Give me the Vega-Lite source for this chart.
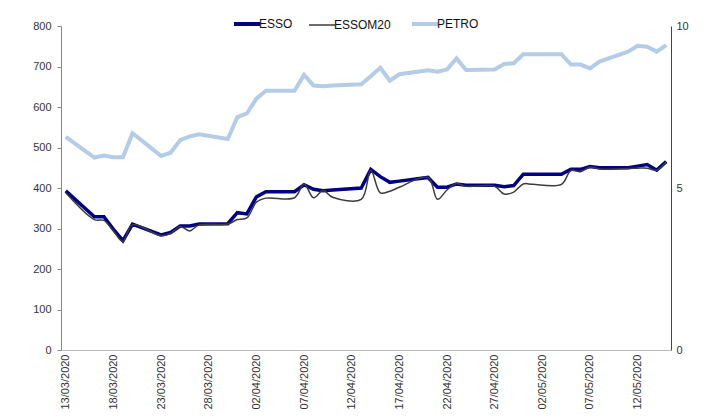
{
  "$schema": "https://vega.github.io/schema/vega-lite/v6.json",
  "width": 610,
  "height": 324,
  "autosize": {"type": "none"},
  "padding": {"left": 61, "top": 26, "right": 36, "bottom": 67},
  "background": "white",
  "config": {
    "view": {"stroke": null},
    "axis": {"labelFont": "Liberation Sans", "labelFontSize": 11, "labelColor": "#333333", "grid": false, "titleFontSize": 0},
    "legend": {"labelFont": "Liberation Sans", "labelFontSize": 12, "labelColor": "#111111"}
  },
  "data": {
    "values": [
      {"date": "2020-03-13", "ESSO": 393, "ESSOM20": 388, "PETRO": 6.58},
      {"date": "2020-03-16", "ESSO": 329, "ESSOM20": 322, "PETRO": 5.94},
      {"date": "2020-03-17", "ESSO": 329, "ESSOM20": 320, "PETRO": 6.00},
      {"date": "2020-03-18", "ESSO": 298, "ESSOM20": 294, "PETRO": 5.95},
      {"date": "2020-03-19", "ESSO": 270, "ESSOM20": 268, "PETRO": 5.95},
      {"date": "2020-03-20", "ESSO": 311, "ESSOM20": 309, "PETRO": 6.69},
      {"date": "2020-03-23", "ESSO": 284, "ESSOM20": 282, "PETRO": 5.99},
      {"date": "2020-03-24", "ESSO": 290, "ESSOM20": 288, "PETRO": 6.09},
      {"date": "2020-03-25", "ESSO": 306, "ESSOM20": 305, "PETRO": 6.48},
      {"date": "2020-03-26", "ESSO": 306, "ESSOM20": 294, "PETRO": 6.59},
      {"date": "2020-03-27", "ESSO": 311, "ESSOM20": 309, "PETRO": 6.66},
      {"date": "2020-03-30", "ESSO": 312, "ESSOM20": 311, "PETRO": 6.51},
      {"date": "2020-03-31", "ESSO": 339, "ESSOM20": 322, "PETRO": 7.19},
      {"date": "2020-04-01", "ESSO": 336, "ESSOM20": 326, "PETRO": 7.30},
      {"date": "2020-04-02", "ESSO": 378, "ESSOM20": 365, "PETRO": 7.76},
      {"date": "2020-04-03", "ESSO": 391, "ESSOM20": 375, "PETRO": 8.00},
      {"date": "2020-04-06", "ESSO": 391, "ESSOM20": 376, "PETRO": 8.00},
      {"date": "2020-04-07", "ESSO": 408, "ESSOM20": 410, "PETRO": 8.49},
      {"date": "2020-04-08", "ESSO": 397, "ESSOM20": 376, "PETRO": 8.16},
      {"date": "2020-04-09", "ESSO": 393, "ESSOM20": 394, "PETRO": 8.14},
      {"date": "2020-04-10", "ESSO": 395, "ESSOM20": 377, "PETRO": 8.16},
      {"date": "2020-04-13", "ESSO": 400, "ESSOM20": 372, "PETRO": 8.20},
      {"date": "2020-04-14", "ESSO": 446, "ESSOM20": 444, "PETRO": 8.45},
      {"date": "2020-04-15", "ESSO": 428, "ESSOM20": 388, "PETRO": 8.71},
      {"date": "2020-04-16", "ESSO": 414, "ESSOM20": 392, "PETRO": 8.31},
      {"date": "2020-04-17", "ESSO": 417, "ESSOM20": 402, "PETRO": 8.51},
      {"date": "2020-04-20", "ESSO": 426, "ESSOM20": 426, "PETRO": 8.63},
      {"date": "2020-04-21", "ESSO": 402, "ESSOM20": 372, "PETRO": 8.59},
      {"date": "2020-04-22", "ESSO": 402, "ESSOM20": 395, "PETRO": 8.66},
      {"date": "2020-04-23", "ESSO": 410, "ESSOM20": 411, "PETRO": 9.00},
      {"date": "2020-04-24", "ESSO": 407, "ESSOM20": 404, "PETRO": 8.64},
      {"date": "2020-04-27", "ESSO": 407, "ESSOM20": 404, "PETRO": 8.66},
      {"date": "2020-04-28", "ESSO": 403, "ESSOM20": 385, "PETRO": 8.83},
      {"date": "2020-04-29", "ESSO": 406, "ESSOM20": 390, "PETRO": 8.85},
      {"date": "2020-04-30", "ESSO": 434, "ESSOM20": 410, "PETRO": 9.13},
      {"date": "2020-05-01", "ESSO": 434, "ESSOM20": 409, "PETRO": 9.13},
      {"date": "2020-05-04", "ESSO": 434, "ESSOM20": 409, "PETRO": 9.13},
      {"date": "2020-05-05", "ESSO": 446, "ESSOM20": 443, "PETRO": 8.81},
      {"date": "2020-05-06", "ESSO": 446, "ESSOM20": 440, "PETRO": 8.81},
      {"date": "2020-05-07", "ESSO": 453, "ESSOM20": 452, "PETRO": 8.69},
      {"date": "2020-05-08", "ESSO": 450, "ESSOM20": 447, "PETRO": 8.90},
      {"date": "2020-05-11", "ESSO": 450, "ESSOM20": 448, "PETRO": 9.21},
      {"date": "2020-05-12", "ESSO": 454, "ESSOM20": 449, "PETRO": 9.39},
      {"date": "2020-05-13", "ESSO": 458, "ESSOM20": 449, "PETRO": 9.36},
      {"date": "2020-05-14", "ESSO": 444, "ESSOM20": 444, "PETRO": 9.21},
      {"date": "2020-05-15", "ESSO": 465, "ESSOM20": 465, "PETRO": 9.41}
    ]
  },
  "transform": [{"fold": ["ESSO", "ESSOM20", "PETRO"], "as": ["series", "value"]}],
  "encoding": {
    "x": {
      "field": "date",
      "type": "temporal",
      "title": null,
      "scale": {"type": "utc", "domain": [1584014400000, 1589544000000]},
      "axis": {
        "values": [1584057600000, 1584489600000, 1584921600000, 1585353600000, 1585785600000, 1586217600000, 1586649600000, 1587081600000, 1587513600000, 1587945600000, 1588377600000, 1588809600000, 1589241600000],
        "format": "%d/%m/%Y",
        "labelAngle": -90,
        "labelPadding": 4,
        "ticks": false,
        "domainColor": "#bbbbbb",
        "labelOverlap": false,
        "labelBound": false
      }
    },
    "color": {
      "field": "series",
      "type": "nominal",
      "scale": {"domain": ["ESSO", "ESSOM20", "PETRO"], "range": ["#000080", "#3c3c3c", "#b4cce6"]},
      "legend": {
        "title": null,
        "orient": "none",
        "legendX": 180,
        "legendY": -8,
        "direction": "horizontal",
        "symbolType": "stroke",
        "symbolSize": 676,
        "columnPadding": 13,
        "labelOffset": 6,
        "labelFontSize": 12,
        "padding": 0,
        "encode": {
          "symbols": {"update": {"strokeWidth": {"signal": "datum.value === 'ESSOM20' ? 1.5 : 4"}}}
        }
      }
    }
  },
  "layer": [
    {
      "encoding": {
        "y": {
          "field": "value",
          "type": "quantitative",
          "title": null,
          "scale": {"domain": [0, 800], "nice": false},
          "axis": {"values": [0, 100, 200, 300, 400, 500, 600, 700, 800], "tickSize": 4, "tickColor": "#888888", "domainColor": "#888888", "labelPadding": 6}
        }
      },
      "layer": [
        {
          "transform": [{"filter": "datum.series === 'ESSO'"}],
          "mark": {"type": "line", "strokeWidth": 3.5}
        },
        {
          "transform": [{"filter": "datum.series === 'ESSOM20'"}],
          "mark": {"type": "line", "strokeWidth": 1.5, "interpolate": "catmull-rom"}
        }
      ]
    },
    {
      "transform": [{"filter": "datum.series === 'PETRO'"}],
      "mark": {"type": "line", "strokeWidth": 4},
      "encoding": {
        "y": {
          "field": "value",
          "type": "quantitative",
          "title": null,
          "scale": {"domain": [0, 10], "nice": false},
          "axis": {"orient": "right", "values": [0, 5, 10], "ticks": false, "domainColor": "#444444", "labelPadding": 5}
        }
      }
    }
  ],
  "resolve": {"scale": {"y": "independent"}}
}
